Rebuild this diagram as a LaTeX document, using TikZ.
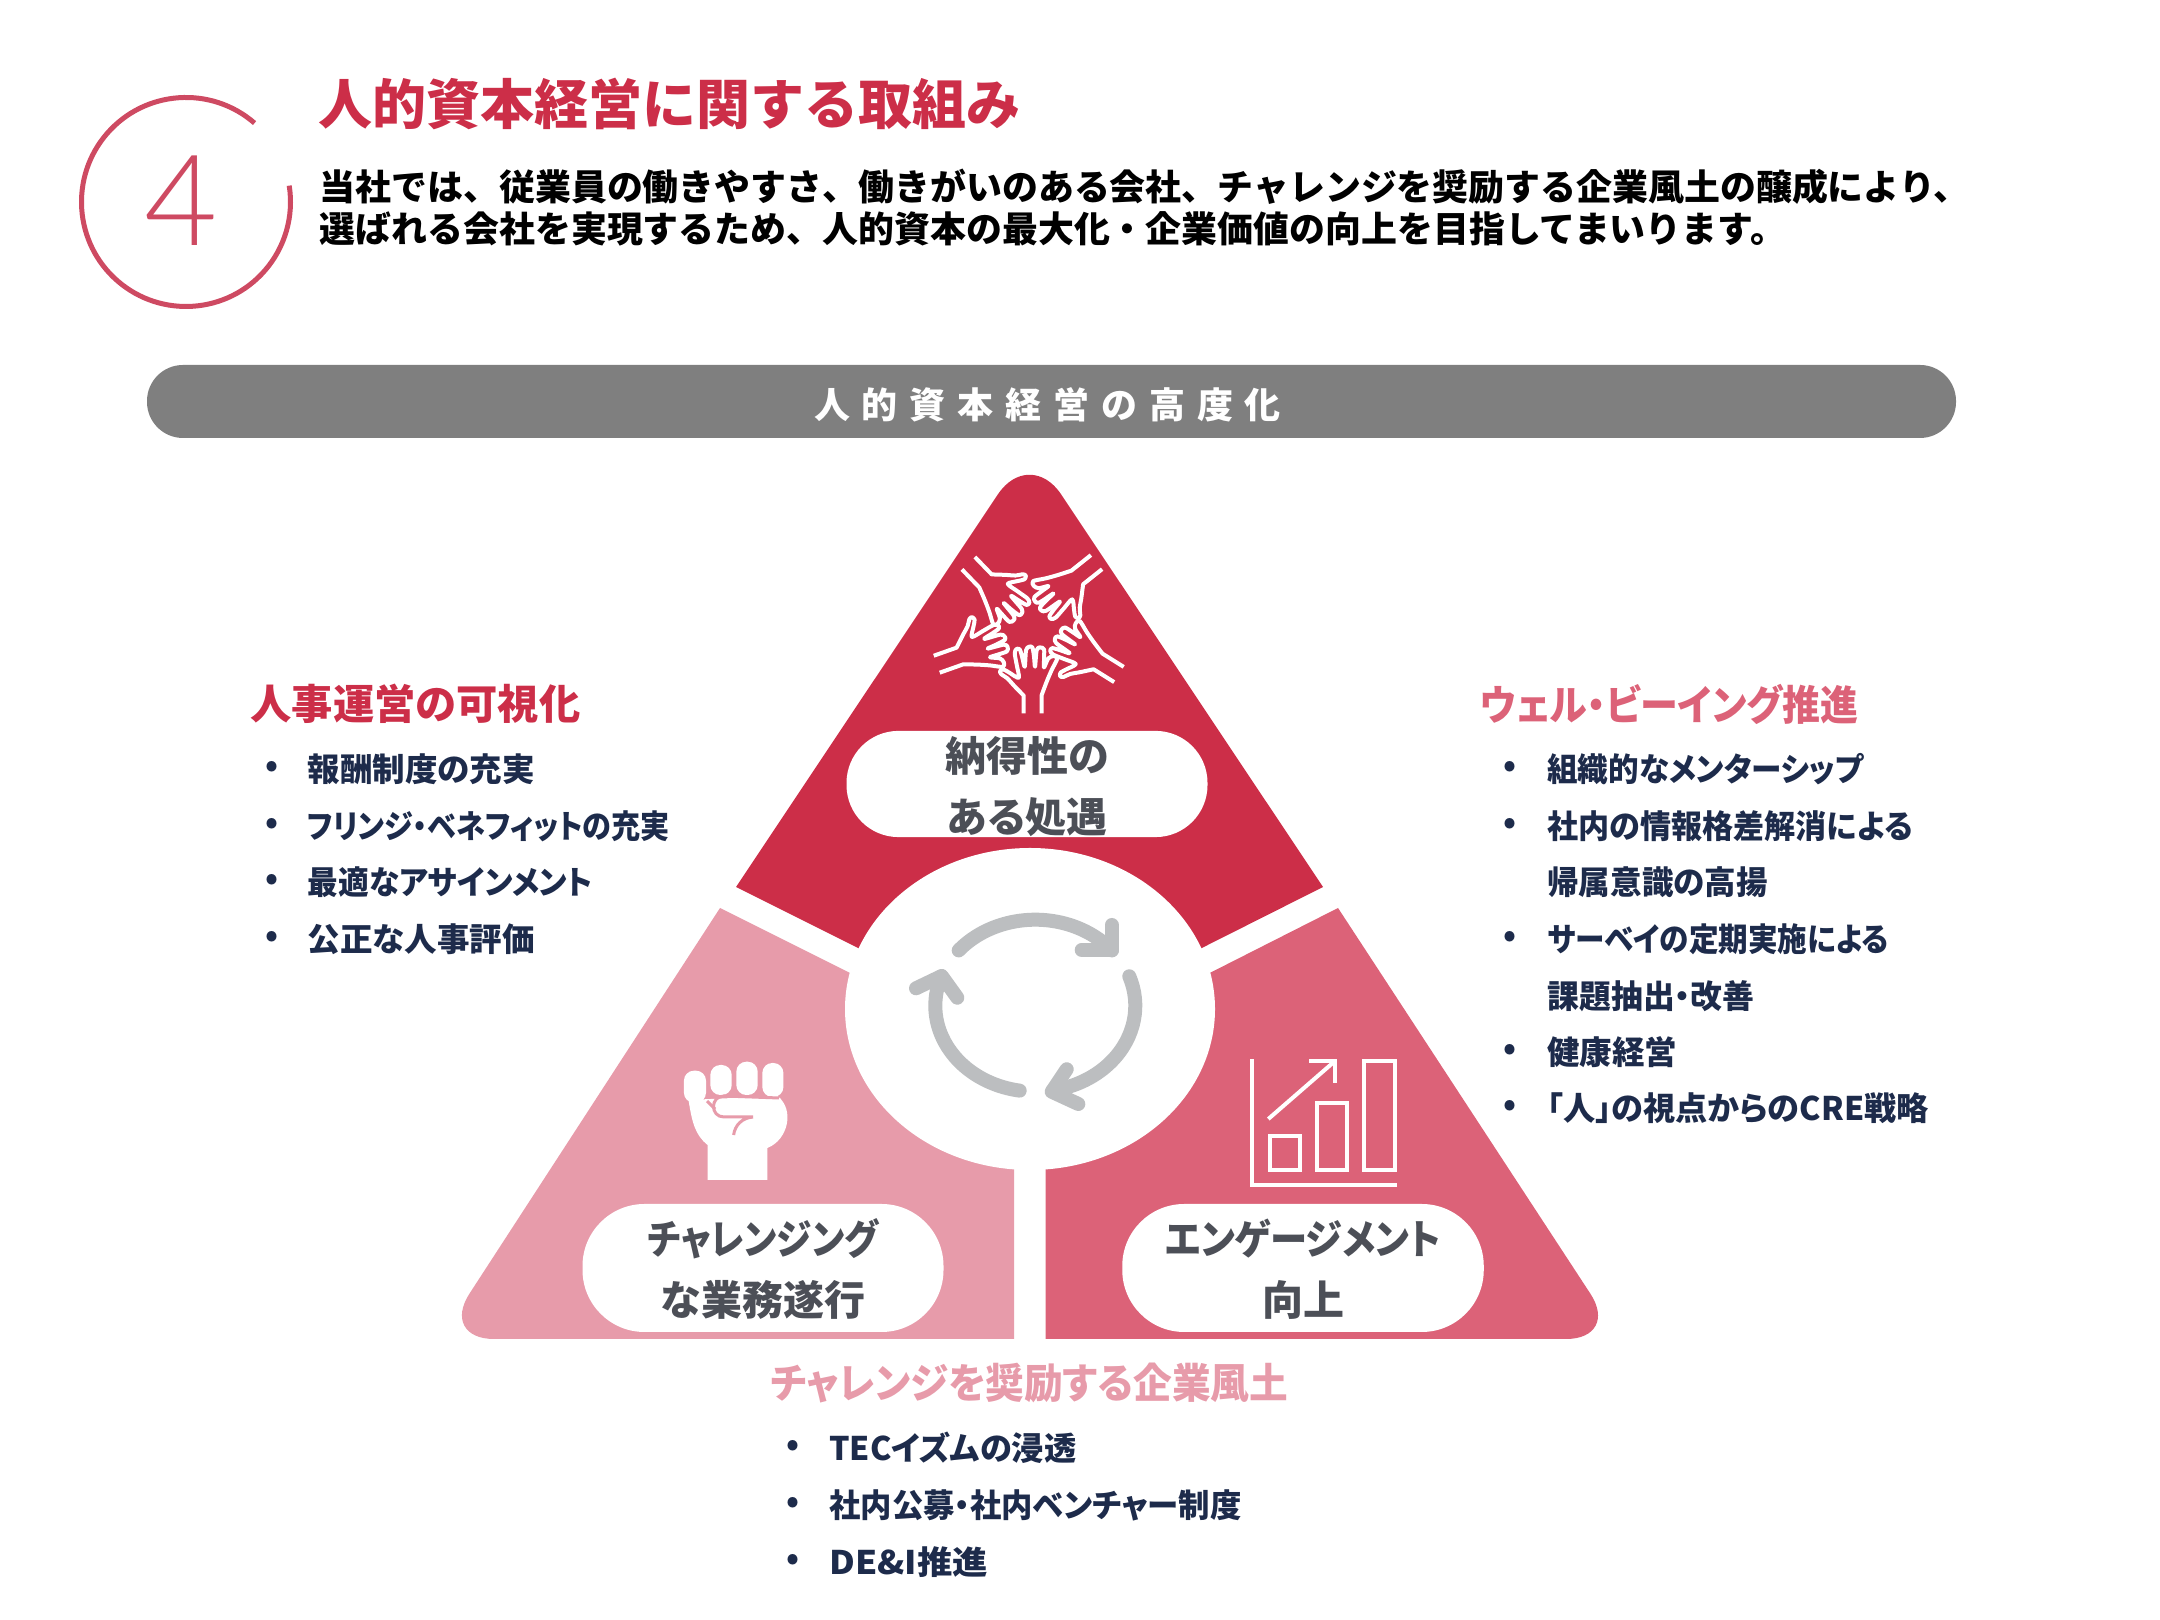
\documentclass[tikz,border=0pt]{standalone}
\usepackage{fontspec}
\setmainfont{Noto Sans CJK JP}[RawFeature=+palt]
\newfontfamily\widejp{Noto Sans CJK JP}
\newfontfamily\numfont{Lato}[UprightFont=* Light]
\definecolor{topred}{HTML}{CC2E48}
\definecolor{leftpink}{HTML}{E79BAA}
\definecolor{rightrose}{HTML}{DC6278}
\definecolor{ringred}{HTML}{CE4A62}
\definecolor{bargrey}{HTML}{7F7F7F}
\definecolor{cyclegrey}{HTML}{BCBEC0}
\definecolor{navy}{HTML}{1D2B4B}
\definecolor{pilltext}{HTML}{4C4F57}
\def\sz#1#2{\fontsize{#1}{#2}\selectfont\bfseries}
\def\sq#1#2{\scalebox{#1}[1]{#2}}
\def\lowtop#1{\rule{0pt}{#1}}
\tikzset{
	pillbox/.style={fill=white, text=pilltext, align=center, inner sep=0pt, font=\sz{11.66}{17.35}, minimum height=#1},
	headtext/.style={anchor=west, inner sep=0pt, font=\sz{11.74}{14}},
	itemtext/.style={anchor=west, inner sep=0pt, text=navy, font=\sz{9.25}{12}},
	itemdot/.style={inner sep=0pt, text=navy, font=\sz{9.25}{12}},
	iconline/.style={draw=white, line width=0.04cm},
	cycleline/.style={draw=cyclegrey, line width=0.14cm, line cap=round, line join=round}
}
\begin{document}
\begin{tikzpicture}
		%%%%% START %%%%%
		\useasboundingbox (0, 0) rectangle (21.6, 16.2);
		
		\draw[ringred, line width=0.05cm] (1.86, 14.18) ++(49:1.045) arc (49:369:1.045);
		\node[text=ringred, inner sep=0pt, font=\numfont\fontsize{36}{40}\selectfont] (num) at (1.81, 14.19) {4};
		\node[anchor=west, inner sep=0pt, text=topred, font=\sz{15.36}{18}] (title) at (3.18, 15.16) {\widejp 人的資本経営に関する取組み};
		\node[anchor=west, inner sep=0pt, align=left, font=\sz{10.22}{11.95}] (intro) at (3.19, 14.12) {\widejp 当社では、従業員の働きやすさ、働きがいのある会社、チャレンジを奨励する企業風土の醸成により、\\\widejp 選ばれる会社を実現するため、人的資本の最大化・企業価値の向上を目指してまいります。};
		\node[fill=bargrey, text=white, rounded corners=0.36cm, minimum width=18.09cm, minimum height=0.73cm, inner sep=0pt, font=\sz{10.24}{12}] (bar) at (10.515, 12.185) {\widejp\addfontfeature{LetterSpace=33}\lowtop{0.37cm}人的資本経営の高度化\kern 0.08cm};
		
		\fill[topred] (7.36, 7.33) [rounded corners=0.57cm] -- (10.295, 11.73) [sharp corners] -- (13.23, 7.33) -- (11.7, 6.56) -- (8.9, 6.56) -- cycle;
		\fill[leftpink] (7.20, 7.12) -- (8.70, 6.37) -- (10.14, 4.6) -- (10.14, 2.81) [rounded corners=0.54cm] -- (4.40, 2.81) [sharp corners] -- cycle;
		\fill[rightrose] (13.38, 7.12) -- (11.90, 6.37) -- (10.455, 4.6) -- (10.455, 2.81) [rounded corners=0.54cm] -- (16.20, 2.81) [sharp corners] -- cycle;
		\fill[white] (10.30, 6.11) ellipse (1.85 and 1.61);
		
		\node[pillbox=1.06cm, minimum width=3.61cm, rounded corners=0.52cm] (fairpill) at (10.27, 8.36) {\lowtop{0.41cm}納得性の\\ある処遇};
		\node[pillbox=1.28cm, minimum width=3.61cm, rounded corners=0.62cm] (challengepill) at (7.63, 3.52) {\lowtop{0.38cm}\sq{0.87}{チャレンジング}\\な業務遂行};
		\node[pillbox=1.28cm, minimum width=3.615cm, rounded corners=0.62cm] (engagepill) at (13.03, 3.52) {\lowtop{0.38cm}\sq{0.91}{エンゲージメント}\\向上};
		
		% cycle arrows
		\draw[cycleline] (10.353, 6.143) ++(140:1.0 and 0.86) arc[start angle=140, end angle=40, x radius=1.0, y radius=0.86];
		\draw[cycleline] (11.117, 6.95) -- (11.117, 6.70) -- (10.817, 6.70);
		\draw[cycleline] (10.353, 6.143) ++(20:1.0 and 0.86) arc[start angle=20, end angle=-80, x radius=1.0, y radius=0.86];
		\draw[cycleline] (10.667, 5.507) -- (10.517, 5.283) -- (10.783, 5.16);
		\draw[cycleline] (10.353, 6.143) ++(261:1.0 and 0.86) arc[start angle=261, end angle=160, x radius=1.0, y radius=0.86];
		\draw[cycleline] (9.16, 6.317) -- (9.417, 6.44) -- (9.573, 6.223);
		
		% hands
		\foreach \hx/\hy/\ang/\wrist in {10.327/9.067/0/0, 9.43/9.58/-70.5/20, 9.73/10.52/-136/20, 10.913/10.537/128.5/20, 11.133/9.49/58/20}{
			\begin{scope}[shift={(\hx, \hy)}, rotate=\ang, x=0.00333cm, y=-0.00333cm]
				\draw[iconline, line join=round] (-27, \wrist) -- plot[smooth, tension=0.5] coordinates {(-27, -53) (-58, -85) (-76, -105) (-95, -118) (-98, -127) (-88, -132) (-70, -122) (-42, -107) (-48, -145) (-54, -180) (-49, -193) (-39, -192) (-32, -170) (-24, -140) (-20, -190) (-11, -200) (-1, -198) (4, -170) (7, -140) (12, -190) (22, -198) (34, -192) (34, -160) (34, -138) (47, -165) (62, -172) (74, -165) (57, -130) (42, -95) (27, -55)} -- (27, \wrist);
			\end{scope}
		}
		
		% fist
		\fill[white, rounded corners=0.1cm] (6.839, 5.173) rectangle (7.06, 5.493);
		\fill[white, rounded corners=0.1cm] (7.103, 5.25) rectangle (7.317, 5.55);
		\fill[white, rounded corners=0.1cm] (7.363, 5.25) rectangle (7.577, 5.583);
		\fill[white, rounded corners=0.1cm] (7.623, 5.23) rectangle (7.834, 5.57);
		\fill[white] (6.885, 5.2) .. controls (6.92, 4.98) and (6.95, 4.85) .. (7.076, 4.75) -- (7.076, 4.40) -- (7.673, 4.40) -- (7.673, 4.72) .. controls (7.88, 4.8) and (7.95, 5.1) .. (7.776, 5.24) -- cycle;
		\draw[leftpink, line width=0.03cm] (7.79, 5.22) -- (7.24, 5.24) .. controls (7.10, 5.24) and (7.10, 5.03) .. (7.24, 5.03) -- (7.53, 5.03) .. controls (7.42, 5.02) and (7.35, 4.95) .. (7.336, 4.85);
		\draw[leftpink, line width=0.03cm] (7.07, 5.19) -- (7.15, 5.11);
		
		% chart
		\draw[iconline] (12.523, 5.607) -- (12.523, 4.353) -- (13.967, 4.353);
		\draw[iconline] (12.70, 4.50) rectangle (13.00, 4.84);
		\draw[iconline] (13.173, 4.50) rectangle (13.473, 5.173);
		\draw[iconline] (13.643, 4.50) rectangle (13.95, 5.587);
		\draw[iconline] (12.683, 5.01) -- (13.35, 5.59);
		\draw[iconline] (13.09, 5.59) -- (13.35, 5.59) -- (13.35, 5.367);
		
		% lists
		\node[headtext, text=topred] (lefthead) at (2.50, 9.16) {人事運営の可視化};
		\foreach \ypos/\txt [count=\n] in {8.51/報酬制度の充実, 7.94/\sq{0.895}{フリンジ・ベネフィットの充実}, 7.38/\sq{0.945}{最適なアサインメント}, 6.81/公正な人事評価}{
			\node[itemdot] (leftdot\n) at (2.717, \ypos) {•};
			\node[itemtext] (leftitem\n) at (3.07, \ypos) {\txt};
		}
		\node[headtext, text=rightrose] (righthead) at (14.80, 9.16) {\sq{0.92}{ウェル・ビーイング推進}};
		\foreach \ypos/\txt [count=\n] in {8.51/\sq{0.94}{組織的なメンターシップ}, 7.94/\sq{0.957}{社内の情報格差解消による}, 6.81/\sq{0.91}{サーベイの定期実施による}, 5.68/健康経営, 5.12/\sq{0.99}{「人」の視点からのCRE戦略}}{
			\node[itemdot] (rightdot\n) at (15.10, \ypos) {•};
			\node[itemtext] (rightitem\n) at (15.467, \ypos) {\txt};
		}
		\node[itemtext] (rightmore1) at (15.467, 7.38) {\sq{0.97}{帰属意識の高揚}};
		\node[itemtext] (rightmore2) at (15.467, 6.24) {\sq{0.98}{課題抽出・改善}};
		\node[headtext, text=leftpink] (bottomhead) at (7.70, 2.365) {\sq{0.9375}{チャレンジを奨励する企業風土}};
		\foreach \ypos/\txt [count=\n] in {1.72/\sq{0.99}{TECイズムの浸透}, 1.15/\sq{0.965}{社内公募・社内ベンチャー制度}, 0.58/\sq{1.09}{DE\&I推進}}{
			\node[itemdot] (bottomdot\n) at (7.93, \ypos) {•};
			\node[itemtext] (bottomitem\n) at (8.286, \ypos) {\txt};
		}
		%%%%% END %%%%%
	\end{tikzpicture}
\end{document}
